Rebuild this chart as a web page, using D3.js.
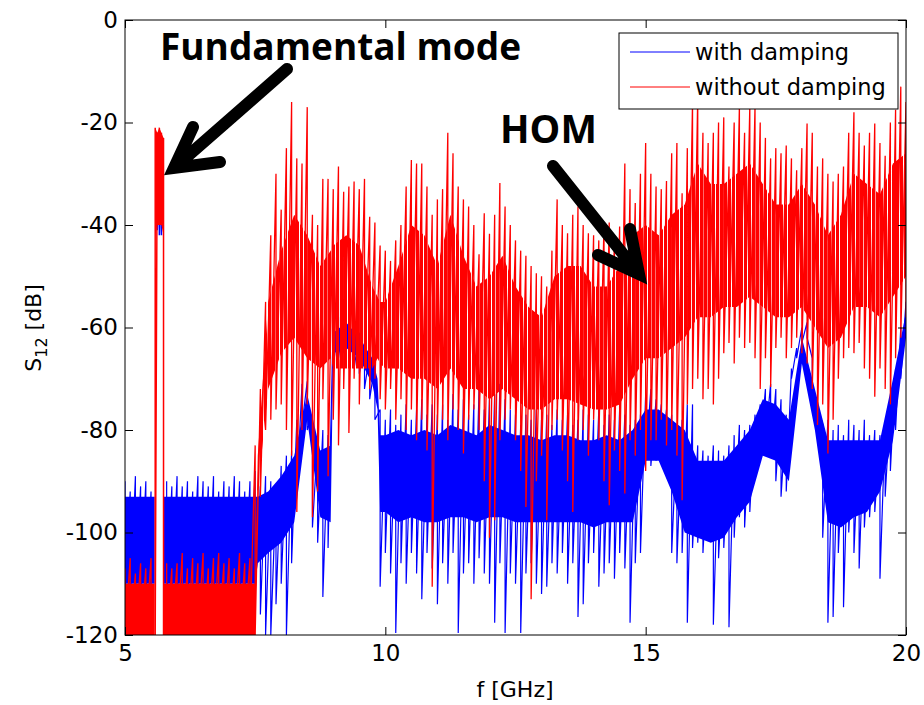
<!DOCTYPE html>
<html>
<head>
<meta charset="utf-8">
<script src="https://d3js.org/d3.v7.min.js"></script>
<style>
body{margin:0;background:#fff;}
svg{display:block;}
</style>
</head>
<body>
<div id="container"></div>
<script>
// sample frequencies [GHz], read every 0.1 GHz
const freqs = [
 5.0,5.1,5.2,5.3,5.4,5.5,5.6,5.7,5.8,5.9,
 6.0,6.1,6.2,6.3,6.4,6.5,6.6,6.7,6.8,6.9,
 7.0,7.1,7.2,7.3,7.4,7.5,7.6,7.7,7.8,7.9,
 8.0,8.1,8.2,8.3,8.4,8.5,8.6,8.7,8.8,8.9,
 9.0,9.1,9.2,9.3,9.4,9.5,9.6,9.7,9.8,9.9,
 10.0,10.1,10.2,10.3,10.4,10.5,10.6,10.7,10.8,10.9,
 11.0,11.1,11.2,11.3,11.4,11.5,11.6,11.7,11.8,11.9,
 12.0,12.1,12.2,12.3,12.4,12.5,12.6,12.7,12.8,12.9,
 13.0,13.1,13.2,13.3,13.4,13.5,13.6,13.7,13.8,13.9,
 14.0,14.1,14.2,14.3,14.4,14.5,14.6,14.7,14.8,14.9,
 15.0,15.1,15.2,15.3,15.4,15.5,15.6,15.7,15.8,15.9,
 16.0,16.1,16.2,16.3,16.4,16.5,16.6,16.7,16.8,16.9,
 17.0,17.1,17.2,17.3,17.4,17.5,17.6,17.7,17.8,17.9,
 18.0,18.1,18.2,18.3,18.4,18.5,18.6,18.7,18.8,18.9,
 19.0,19.1,19.2,19.3,19.4,19.5,19.6,19.7,19.8,19.9,
 20.0];

// without damping: spike tops / spike bottoms [dB]
const redHi = [
 -107,-105,-108,-106,-107,-105,null,null,-106,-107,
 -106,-104,-107,-105,-106,-104,-107,-105,-104,-106,
 -105,-107,-104,-106,-105,-83,-72,-55,-42,-30,
 -37,-25,-16,-27,-28,-17,-38,-40,-31,-31,
 -33,-28.6,-33.5,-32.5,-31.5,-33,-31,-38.4,-39.5,-44,
 -45,-47,-43,-40,-32.5,-27.3,-28,-28,-32.5,-38,
 -35,-33,-22,-26,-32.5,-35,-36.4,-40,-45.7,-37.7,
 -41.7,-38,-31.8,-36.4,-40,-43,-45,-46,-48,-49.4,
 -50,-52,-45,-35,-40,-41.6,-38,-36.4,-40,-41.6,
 -42,-43,-40,-39.5,-42,-40.3,-28,-33,-35.7,-30,
 -24,-30,-32.5,-33,-31.4,-26,-24,-33.8,-25,-16,
 -15,-22,-24,-22,-20,-19,-28.6,-20,-17,-22,
 -17,-17,-20,-23,-27,-25,-26,-24.5,-27,-29.3,
 -25,-20.2,-22,-28.6,-27,-30,-31.5,-30,-28.6,-22,
 -18,-22,-24.5,-22,-20.2,-24,-26.5,-20,-17.5,-13,
 -16];
const redLo = [
 -120,-120,-120,-120,-120,-120,null,null,-120,-120,
 -120,-120,-120,-120,-120,-120,-120,-120,-120,-120,
 -120,-120,-120,-120,-120,-120,-93,-80,-78,-76,
 -75,-80,-85,-96,-80,-75,-97,-92,-74,-89,
 -78,-83,-72,-80.6,-70,-75,-68,-72,-70,-74,
 -76,-72,-78,-74,-80,-76,-82,-78,-84,-110.6,
 -80,-78,-82,-76,-80,-84.6,-78,-76,-80,-90,
 -101,-97.6,-82,-78,-76,-82,-88,-95,-113,-90,
 -85,-97.6,-80,-78,-84,-90,-96,-82,-80,-85,
 -78,-82,-90,-94.7,-84,-88,-92.4,-82,-85,-80,
 -88,-82,-82,-78,-83,-80,-85,-93.7,-75,-72,
 -70,-74,-72,-75,-70,-65,-63,-67,-62,-64,
 -63,-66,-72,-66,-71.6,-64,-62,-66,-64,-62,
 -65,-67,-72,-79,-75,-84.6,-78,-70,-66,-64,
 -65,-63,-68,-70,-73.5,-68,-72,-75,-66,-62,
 -58];

// with damping: spike tops / spike bottoms [dB]
const blueHi = [
 -90,-92,-89,-91,-90,-92,null,null,-90,-91,
 -89,-91,-90,-92,-89,-90,-91,-89,-92,-90,
 -91,-89,-90,-92,-90,-88,-91,-89,-90,-92,
 -87,-85,-84,-78,-71,-70.5,-77,-82,-80,-81,
 -59,-58,-58,-59,-60,-61,-63,-65,-67,-76,
 -78,-76,-79,-77,-75,-78,-76,-74,-77,-75,
 -77,-75,-78,-73,-76,-74,-77,-75,-72,-76,
 -74,-73,-71,-74,-76,-77,-79,-77,-78,-76,
 -78,-77,-79,-76,-78,-77,-79,-78,-76,-77,
 -78,-76,-79,-77,-78,-76,-77,-79,-78,-77,
 -73,-72,-74,-75,-76,-77,-80,-78,-75,-75,
 -83,-84,-85,-83,-84,-85,-83,-81,-79,-80,
 -79,-77,-75,-72,-71,-72,-74,-77,-68,-64,
 -60,-59,-66,-75,-79,-78,-80,-79,-81,-78,
 -79,-80,-78,-81,-80,-81,-79,-75,-68,-60,
 -55];
const blueLo = [
 -112,-114,-111,-113,-112,-114,null,null,-113,-112,
 -113,-112,-114,-111,-113,-112,-114,-113,-112,-114,
 -112,-113,-114,-112,-113,-112,-116,-120,-120,-114,
 -110,-120,-106,-92,-79,-80,-99,-102,-112.6,-103,
 -68,-66,-65,-67,-68,-69,-72,-74,-78,-110.6,
 -104,-108,-119.6,-106,-110,-104,-108,-113,-104,-107,
 -114,-106,-110,-104,-119.6,-108,-106,-110,-105,-108,
 -110,-117.6,-106,-119.6,-108,-110,-119.6,-108,-106,-110,
 -112,-110.6,-106,-108,-104,-110,-106,-116.5,-114,-106,
 -104,-110.6,-108,-106,-109,-104,-107,-117.6,-106,-104,
 -86,-87,-86,-85,-88,-104,-106,-104,-117.6,-103,
 -102,-104,-101,-118,-105,-103,-118.5,-101,-97,-99,
 -96,-86,-84,-82,-85,-90,-93,-92,-70,-66,
 -63,-62,-72,-80,-101,-117.6,-116.5,-104,-114.6,-100,
 -104,-107,-99,-97,-96,-109,-93,-88,-80,-70,
 -62];

// dense band of each trace (top / bottom) [dB]
const coreFreqs = [
 5.0,5.57,5.65,5.74,6.5,7.5,7.55,7.75,8.0,8.25,8.5,8.75,8.95,9.0,9.25,9.5,9.75,9.85,9.9,
 10.0,10.25,10.5,10.75,11.0,11.25,11.5,11.75,12.0,12.25,12.5,12.75,13.0,13.25,13.5,13.75,
 14.0,14.25,14.5,14.75,15.0,15.25,15.5,15.75,16.0,16.25,16.5,16.75,17.0,17.25,17.5,17.75,
 18.0,18.25,18.5,18.75,19.0,19.25,19.5,19.75,20.0];
const redCoreTop = [
 -110,-110,null,-110,-110,-110,-85,-55,-45,-38,-42,-48,-45,-44,-42,-44,-52,-54,-55,
 -55,-48,-40,-42,-48,-38,-46,-52,-50,-46,-52,-56,-58,-50,-48,-48,
 -52,-52,-48,-42,-40,-42,-38,-36,-28,-32,-32,-30,-28,-32,-36,-36,
 -32,-36,-42,-38,-30,-32,-34,-28,-26];
const redCoreBot = [
 -120,-120,null,-120,-120,-120,-92,-72,-65,-62,-66,-68,-66,-68,-68,-68,-68,-66,-67,
 -68,-68,-70,-70,-72,-68,-72,-72,-74,-72,-74,-76,-76,-74,-74,-75,
 -76,-76,-75,-70,-66,-66,-64,-62,-58,-58,-56,-56,-54,-56,-58,-58,
 -56,-60,-64,-62,-56,-56,-58,-54,-50];
const blueCoreTop = [
 -93,-93,null,-93,-93,-93,-93,-92,-89,-85,-73,-84,-83,-61,-59,-62,-66,-70,-81,
 -81,-80,-81,-80,-81,-79,-80,-81,-79,-80,-81,-81,-82,-81,-81,-82,
 -82,-81,-82,-80,-76,-76,-78,-80,-86,-86,-86,-83,-80,-74,-75,-78,
 -62,-72,-82,-82,-82,-82,-82,-70,-57];
const blueCoreBot = [
 -110,-110,null,-110,-110,-110,-106,-104,-102,-98,-78,-97,-98,-65,-64,-66,-71,-76,-96,
 -96,-98,-97,-98,-98,-97,-97,-98,-97,-97,-98,-98,-98,-98,-98,-98,
 -99,-98,-98,-98,-86,-86,-92,-100,-101,-102,-101,-97,-94,-85,-86,-90,
 -67,-80,-98,-99,-97,-96,-92,-82,-62];

// fundamental mode peak
const fundFreqs   = [5.58, 5.62, 5.66, 5.70, 5.74];
const fundRedHi   = [-21, -22, -21, -22, -23];
const fundRedLo   = [-120, -40, -40, -40, -120];
const fundRedBand = [-42, -40, -40, -40, -42];
const fundBlueFreqs = [5.62, 5.66, 5.70];
const fundBlueHi  = [-27, -28, -30];
const fundBlueLo  = [-41, -42, -42];

const xTicks = [5, 10, 15, 20];
const yTicks = [-120, -100, -80, -60, -40, -20, 0];
const seriesNames = ["with damping", "without damping"];

const width = 924, height = 705;
const plotL = 125, plotR = 906, plotT = 20, plotB = 635;
const BLUE = "#0000ff", RED = "#ff0000";
const FONT = "'DejaVu Sans', sans-serif";

const x = d3.scaleLinear().domain([5, 20]).range([plotL, plotR]);
const y = d3.scaleLinear().domain([-120, 0]).range([plotB, plotT]);

const svg = d3.select("#container").append("svg")
  .attr("width", width)
  .attr("height", height)
  .attr("viewBox", [0, 0, width, height]);

const defs = svg.append("defs");
defs.append("clipPath").attr("id", "plotclip")
  .append("rect").attr("x", plotL).attr("y", plotT)
  .attr("width", plotR - plotL).attr("height", plotB - plotT);
// thin vertical stripes: looks like the many overlapping sweep lines
defs.append("pattern").attr("id", "redStripes")
  .attr("patternUnits", "userSpaceOnUse").attr("width", 4).attr("height", 8)
  .append("rect").attr("width", 3).attr("height", 8).attr("fill", RED);

const plot = svg.append("g").attr("clip-path", "url(#plotclip)");

// hi -> lo -> next hi ... so the trace looks like the dense sweep
function zigzag(fs, hi, lo){
  const pts = [];
  fs.forEach((f, i) => {
    if(hi[i] == null){ pts.push(null); return; }
    pts.push([f, hi[i]]);
    pts.push([f, lo[i]]);
  });
  return pts;
}
const line = d3.line().defined(d => d != null).x(d => x(d[0])).y(d => y(d[1]));

function rows(fs, t, b){
  return fs.map((f, i) => ({f: f, t: t[i], b: b[i]}));
}
const area = d3.area().defined(d => d.t != null)
  .x(d => x(d.f)).y0(d => y(d.b)).y1(d => y(d.t));

// with damping first, then without damping on top
plot.append("path").datum(rows(coreFreqs, blueCoreTop, blueCoreBot))
  .attr("d", area).attr("fill", BLUE);
plot.append("path").datum(zigzag(freqs, blueHi, blueLo))
  .attr("d", line).attr("fill", "none").attr("stroke", BLUE).attr("stroke-width", 1.2);
plot.append("path").datum(zigzag(fundBlueFreqs, fundBlueHi, fundBlueLo))
  .attr("d", line).attr("fill", "none").attr("stroke", BLUE).attr("stroke-width", 1.5);

const redRows = rows(coreFreqs, redCoreTop, redCoreBot);
plot.append("path").datum(redRows.filter(d => d.f <= 7.5))
  .attr("d", area).attr("fill", RED);
plot.append("path").datum(redRows.filter(d => d.f >= 7.5))
  .attr("d", area).attr("fill", "url(#redStripes)");
plot.append("path").datum(zigzag(freqs, redHi, redLo))
  .attr("d", line).attr("fill", "none").attr("stroke", RED).attr("stroke-width", 1.3);
plot.append("path").datum(rows(fundFreqs, fundRedHi, fundRedBand))
  .attr("d", area).attr("fill", RED);
plot.append("path").datum(zigzag(fundFreqs, fundRedHi, fundRedLo))
  .attr("d", line).attr("fill", "none").attr("stroke", RED).attr("stroke-width", 1.5);

// axes, MATLAB style: ticks inside on all four sides
function styleAxis(g){
  g.select(".domain").remove();
  g.selectAll(".tick line").attr("stroke", "#000");
  g.selectAll("text").attr("fill", "#000").style("font-family", FONT).style("font-size", "23px");
}
svg.append("g").attr("transform", `translate(0,${plotB})`)
  .call(d3.axisBottom(x).tickValues(xTicks).tickSize(-8).tickPadding(10).tickFormat(d => String(d)))
  .call(styleAxis);
svg.append("g").attr("transform", `translate(0,${plotT})`)
  .call(d3.axisTop(x).tickValues(xTicks).tickSize(-8).tickFormat(""))
  .call(styleAxis);
svg.append("g").attr("transform", `translate(${plotL},0)`)
  .call(d3.axisLeft(y).tickValues(yTicks).tickSize(-8).tickPadding(7).tickFormat(d => String(d)))
  .call(styleAxis);
svg.append("g").attr("transform", `translate(${plotR},0)`)
  .call(d3.axisRight(y).tickValues(yTicks).tickSize(-8).tickFormat(""))
  .call(styleAxis);

svg.append("rect")
  .attr("x", plotL).attr("y", plotT)
  .attr("width", plotR - plotL).attr("height", plotB - plotT)
  .attr("fill", "none").attr("stroke", "#000").attr("stroke-width", 1);

svg.append("text")
  .attr("x", 515).attr("y", 697)
  .attr("text-anchor", "middle")
  .style("font-family", FONT).style("font-size", "22px")
  .text("f [GHz]");

const ylab = svg.append("text")
  .attr("transform", "translate(41,328) rotate(-90)")
  .attr("text-anchor", "middle")
  .style("font-family", FONT).style("font-size", "22px");
ylab.append("tspan").text("S");
ylab.append("tspan").attr("dy", 6).style("font-size", "16px").text("12");
ylab.append("tspan").attr("dy", -6).text(" [dB]");

// legend
const lg = svg.append("g");
lg.append("rect").attr("x", 619).attr("y", 33).attr("width", 279).attr("height", 76)
  .attr("fill", "#fff").attr("stroke", "#000").attr("stroke-width", 1);
[BLUE, RED].forEach((c, i) => {
  const yy = 52 + i * 35;
  lg.append("line").attr("x1", 630).attr("x2", 690).attr("y1", yy).attr("y2", yy)
    .attr("stroke", c).attr("stroke-width", 1);
  lg.append("text").attr("x", 695).attr("y", yy + 8)
    .style("font-family", FONT).style("font-size", "22.5px")
    .text(seriesNames[i]);
});

// annotations
const ANN = "'Open Sans', sans-serif";
function fitText(txt, x0, base, w){
  const t = svg.append("text").attr("x", x0).attr("y", base)
    .style("font-family", ANN).style("font-weight", 700).style("font-size", "37px")
    .text(txt);
  const len = t.node().getComputedTextLength();
  t.style("font-size", (37 * w / len).toFixed(1) + "px");
  return t;
}
fitText("Fundamental mode", 160, 60, 361);
fitText("HOM", 500, 143, 97);

function arrow(x1, y1, x2, y2, w1, w2){
  svg.append("path")
    .attr("d", `M${x1},${y1}L${x2},${y2}M${w1[0]},${w1[1]}L${x2},${y2}L${w2[0]},${w2[1]}`)
    .attr("fill", "none").attr("stroke", "#000").attr("stroke-width", 12)
    .attr("stroke-linejoin", "miter").attr("stroke-linecap", "round");
}
arrow(287, 69, 174, 168, [193, 127], [220, 162]);
arrow(553, 166, 639, 274, [630, 229], [598, 255]);
</script>
</body>
</html>
